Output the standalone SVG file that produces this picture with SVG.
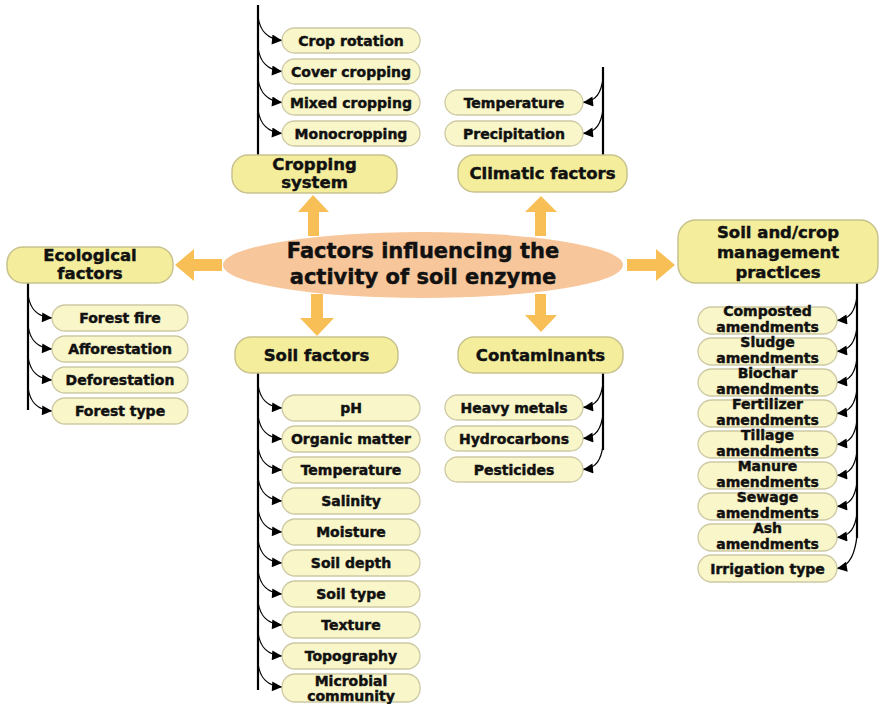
<svg xmlns="http://www.w3.org/2000/svg" width="880" height="704" viewBox="0 0 880 704">
<defs>
<style>
.hd{fill:#F4EE9C;stroke:#C8C28E;stroke-width:1.5}
.sb{fill:#F9F6C9;stroke:#CDC9A4;stroke-width:1.3}
.t{font-family:"DejaVu Sans",Verdana,sans-serif;font-weight:bold;fill:#111;stroke:#111;stroke-width:0.45;text-anchor:middle}
.ts{font-size:14px}
.th{font-size:16.5px}
.vl{stroke:#000;stroke-width:2.2;fill:none}
.cv{stroke:#000;stroke-width:1.3;fill:none}
.oa{fill:#F9BF57}
</style>
<marker id="ah" viewBox="0 0 10 10" refX="10" refY="5" markerWidth="12" markerHeight="10" markerUnits="userSpaceOnUse" orient="auto">
<path d="M0,0 L10,5 L0,10 z" fill="#000"/>
</marker>
</defs>
<rect width="880" height="704" fill="#fff"/>

<g id="orange-arrows">
<polygon class="oa" points="222,259 194,259 194,249 175,265 194,281 194,271 222,271"/>
<polygon class="oa" points="627,259 656,259 656,249 675,265 656,281 656,271 627,271"/>
<polygon class="oa" points="308,236 308,212 298,212 313,195 329,212 319,212 319,236"/>
<polygon class="oa" points="535,236 535,212 525,212 541,196 557,212 546,212 546,236"/>
<polygon class="oa" points="311,294 311,318 300,318 317,336 334,318 323,318 323,294"/>
<polygon class="oa" points="535,294 535,315 525,315 541,332 557,315 546,315 546,294"/>
</g>

<g id="center">
<ellipse cx="423" cy="265" rx="200" ry="33" fill="#F7C69A"/>
<text class="t" x="423" y="258" font-size="21" stroke-width="0.6">Factors influencing the</text>
<text class="t" x="423" y="284" font-size="21" stroke-width="0.6">activity of soil enzyme</text>
</g>

<g id="connectors">
<line class="vl" x1="258" y1="5" x2="258" y2="156"/>
<path class="cv" marker-end="url(#ah)" d="M258,17 C260,30 266,39 282,40.5"/>
<path class="cv" marker-end="url(#ah)" d="M258,48 C260,61 266,70 282,71.5"/>
<path class="cv" marker-end="url(#ah)" d="M258,79 C260,92 266,101 282,102.5"/>
<path class="cv" marker-end="url(#ah)" d="M258,110 C260,123 266,132 282,133.5"/>
<line class="vl" x1="603" y1="67" x2="603" y2="156"/>
<path class="cv" marker-end="url(#ah)" d="M603,79 C601,92 597,101 583,102.5"/>
<path class="cv" marker-end="url(#ah)" d="M603,110 C601,123 597,132 583,133.5"/>
<line class="vl" x1="28" y1="283" x2="28" y2="410"/>
<path class="cv" marker-end="url(#ah)" d="M28,295 C30,308 36,317 52,318"/>
<path class="cv" marker-end="url(#ah)" d="M28,326 C30,339 36,348 52,349"/>
<path class="cv" marker-end="url(#ah)" d="M28,357 C30,370 36,379 52,380"/>
<path class="cv" marker-end="url(#ah)" d="M28,388 C30,401 36,410 52,411"/>
<line class="vl" x1="258" y1="373" x2="258" y2="690"/>
<path class="cv" marker-end="url(#ah)" d="M258,385 C260,398 266,407 282,408"/>
<path class="cv" marker-end="url(#ah)" d="M258,416 C260,429 266,438 282,439"/>
<path class="cv" marker-end="url(#ah)" d="M258,447 C260,460 266,469 282,470"/>
<path class="cv" marker-end="url(#ah)" d="M258,478 C260,491 266,500 282,501"/>
<path class="cv" marker-end="url(#ah)" d="M258,509 C260,522 266,531 282,532"/>
<path class="cv" marker-end="url(#ah)" d="M258,540 C260,553 266,562 282,563"/>
<path class="cv" marker-end="url(#ah)" d="M258,571 C260,584 266,593 282,594"/>
<path class="cv" marker-end="url(#ah)" d="M258,602 C260,615 266,624 282,625"/>
<path class="cv" marker-end="url(#ah)" d="M258,633 C260,646 266,655 282,656"/>
<path class="cv" marker-end="url(#ah)" d="M258,664 C260,677 266,686 282,687"/>
<line class="vl" x1="603" y1="373" x2="603" y2="450"/>
<path class="cv" marker-end="url(#ah)" d="M603,384 C601,397 597,406 583,407.5"/>
<path class="cv" marker-end="url(#ah)" d="M603,415 C601,428 597,437 583,438.5"/>
<path class="cv" marker-end="url(#ah)" d="M603,446 C601,459 597,468 583,469.5"/>
<line class="vl" x1="857" y1="283" x2="857" y2="538"/>
<path class="cv" marker-end="url(#ah)" d="M857,297 C855,310 851,319 837,320.5"/>
<path class="cv" marker-end="url(#ah)" d="M857,328 C855,341 851,350 837,351.5"/>
<path class="cv" marker-end="url(#ah)" d="M857,359 C855,372 851,381 837,382.5"/>
<path class="cv" marker-end="url(#ah)" d="M857,390 C855,403 851,412 837,413.5"/>
<path class="cv" marker-end="url(#ah)" d="M857,421 C855,434 851,443 837,444.5"/>
<path class="cv" marker-end="url(#ah)" d="M857,452 C855,465 851,474 837,475.5"/>
<path class="cv" marker-end="url(#ah)" d="M857,483 C855,496 851,505 837,506.5"/>
<path class="cv" marker-end="url(#ah)" d="M857,514 C855,527 851,536 837,537.5"/>
<path class="cv" marker-end="url(#ah)" d="M857,536 C855,552 851,566 837,568.5"/>
</g>

<g id="cropping-system">
<rect class="hd" x="232" y="155" width="165" height="38" rx="16"/>
<text class="t th" x="314.5" y="170">Cropping</text>
<text class="t th" x="314.5" y="188">system</text>
</g>
<g id="crop-rotation"><rect class="sb" x="282" y="28" width="138" height="25" rx="12.5"/><text class="t ts" x="351" y="45.5">Crop rotation</text></g>
<g id="cover-cropping"><rect class="sb" x="282" y="59" width="138" height="25" rx="12.5"/><text class="t ts" x="351" y="76.5">Cover cropping</text></g>
<g id="mixed-cropping"><rect class="sb" x="282" y="90" width="138" height="25" rx="12.5"/><text class="t ts" x="351" y="107.5">Mixed cropping</text></g>
<g id="monocropping"><rect class="sb" x="282" y="121" width="138" height="25" rx="12.5"/><text class="t ts" x="351" y="138.5">Monocropping</text></g>

<g id="climatic-factors">
<rect class="hd" x="458" y="155" width="169" height="37" rx="16"/>
<text class="t th" x="542.5" y="179">Climatic factors</text>
</g>
<g id="temperature-c"><rect class="sb" x="445" y="90" width="138" height="25" rx="12.5"/><text class="t ts" x="514" y="107.5">Temperature</text></g>
<g id="precipitation"><rect class="sb" x="445" y="121" width="138" height="25" rx="12.5"/><text class="t ts" x="514" y="138.5">Precipitation</text></g>

<g id="ecological-factors">
<rect class="hd" x="7" y="247" width="166" height="36" rx="16"/>
<text class="t th" x="90" y="261">Ecological</text>
<text class="t th" x="90" y="279">factors</text>
</g>
<g id="forest-fire"><rect class="sb" x="52" y="305" width="136" height="26" rx="13"/><text class="t ts" x="120" y="323">Forest fire</text></g>
<g id="afforestation"><rect class="sb" x="52" y="336" width="136" height="26" rx="13"/><text class="t ts" x="120" y="354">Afforestation</text></g>
<g id="deforestation"><rect class="sb" x="52" y="367" width="136" height="26" rx="13"/><text class="t ts" x="120" y="385">Deforestation</text></g>
<g id="forest-type"><rect class="sb" x="52" y="398" width="136" height="26" rx="13"/><text class="t ts" x="120" y="416">Forest type</text></g>

<g id="soil-factors">
<rect class="hd" x="235" y="337" width="163" height="36" rx="16"/>
<text class="t th" x="316.5" y="361">Soil factors</text>
</g>
<g id="ph"><rect class="sb" x="282" y="395" width="138" height="26" rx="13"/><text class="t ts" x="351" y="413">pH</text></g>
<g id="organic-matter"><rect class="sb" x="282" y="426" width="138" height="26" rx="13"/><text class="t ts" x="351" y="444">Organic matter</text></g>
<g id="temperature-s"><rect class="sb" x="282" y="457" width="138" height="26" rx="13"/><text class="t ts" x="351" y="475">Temperature</text></g>
<g id="salinity"><rect class="sb" x="282" y="488" width="138" height="26" rx="13"/><text class="t ts" x="351" y="506">Salinity</text></g>
<g id="moisture"><rect class="sb" x="282" y="519" width="138" height="26" rx="13"/><text class="t ts" x="351" y="537">Moisture</text></g>
<g id="soil-depth"><rect class="sb" x="282" y="550" width="138" height="26" rx="13"/><text class="t ts" x="351" y="568">Soil depth</text></g>
<g id="soil-type"><rect class="sb" x="282" y="581" width="138" height="26" rx="13"/><text class="t ts" x="351" y="599">Soil type</text></g>
<g id="texture"><rect class="sb" x="282" y="612" width="138" height="26" rx="13"/><text class="t ts" x="351" y="630">Texture</text></g>
<g id="topography"><rect class="sb" x="282" y="643" width="138" height="26" rx="13"/><text class="t ts" x="351" y="661">Topography</text></g>
<g id="microbial-community"><rect class="sb" x="282" y="674" width="138" height="28" rx="13"/><text class="t ts" x="351" y="686">Microbial</text><text class="t ts" x="351" y="701">community</text></g>

<g id="contaminants">
<rect class="hd" x="458" y="337" width="165" height="36" rx="16"/>
<text class="t th" x="540.5" y="361">Contaminants</text>
</g>
<g id="heavy-metals"><rect class="sb" x="445" y="395" width="138" height="25" rx="12.5"/><text class="t ts" x="514" y="412.5">Heavy metals</text></g>
<g id="hydrocarbons"><rect class="sb" x="445" y="426" width="138" height="25" rx="12.5"/><text class="t ts" x="514" y="443.5">Hydrocarbons</text></g>
<g id="pesticides"><rect class="sb" x="445" y="457" width="138" height="25" rx="12.5"/><text class="t ts" x="514" y="474.5">Pesticides</text></g>

<g id="management">
<rect class="hd" x="678" y="220" width="200" height="63" rx="18"/>
<text class="t th" x="778" y="238">Soil and/crop</text>
<text class="t th" x="778" y="258">management</text>
<text class="t th" x="778" y="278">practices</text>
</g>
<g id="composted"><rect class="sb" x="698" y="307" width="139" height="27" rx="13.5"/><text class="t ts" x="767.5" y="316">Composted</text><text class="t ts" x="767.5" y="332">amendments</text></g>
<g id="sludge"><rect class="sb" x="698" y="338" width="139" height="27" rx="13.5"/><text class="t ts" x="767.5" y="347">Sludge</text><text class="t ts" x="767.5" y="363">amendments</text></g>
<g id="biochar"><rect class="sb" x="698" y="369" width="139" height="27" rx="13.5"/><text class="t ts" x="767.5" y="378">Biochar</text><text class="t ts" x="767.5" y="394">amendments</text></g>
<g id="fertilizer"><rect class="sb" x="698" y="400" width="139" height="27" rx="13.5"/><text class="t ts" x="767.5" y="409">Fertilizer</text><text class="t ts" x="767.5" y="425">amendments</text></g>
<g id="tillage"><rect class="sb" x="698" y="431" width="139" height="27" rx="13.5"/><text class="t ts" x="767.5" y="440">Tillage</text><text class="t ts" x="767.5" y="456">amendments</text></g>
<g id="manure"><rect class="sb" x="698" y="462" width="139" height="27" rx="13.5"/><text class="t ts" x="767.5" y="471">Manure</text><text class="t ts" x="767.5" y="487">amendments</text></g>
<g id="sewage"><rect class="sb" x="698" y="493" width="139" height="27" rx="13.5"/><text class="t ts" x="767.5" y="502">Sewage</text><text class="t ts" x="767.5" y="518">amendments</text></g>
<g id="ash"><rect class="sb" x="698" y="524" width="139" height="27" rx="13.5"/><text class="t ts" x="767.5" y="533">Ash</text><text class="t ts" x="767.5" y="549">amendments</text></g>
<g id="irrigation"><rect class="sb" x="698" y="555" width="139" height="27" rx="13.5"/><text class="t ts" x="767.5" y="573.5">Irrigation type</text></g>
</svg>
